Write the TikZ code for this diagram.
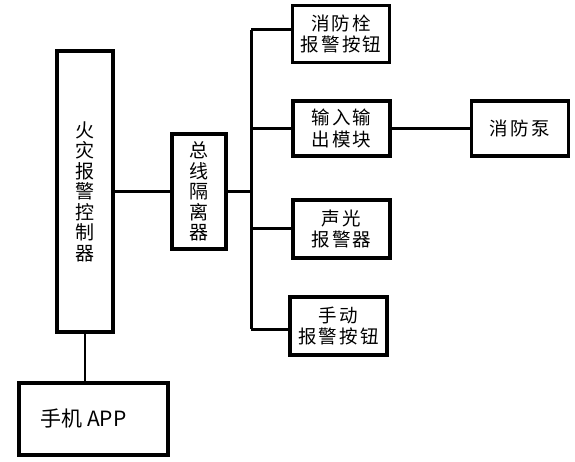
\documentclass[tikz,border=0pt]{standalone}
\usepackage{fontspec}
\usepackage{tikz}
\usetikzlibrary{positioning}
\newfontfamily\cjk[LetterSpace=12]{Noto Sans CJK SC}
\newfontfamily\cjkplain{Noto Sans CJK SC}

\begin{document}
\begin{tikzpicture}[x=1pt, y=-1pt, node distance=30pt]
    % Define styles
    \tikzstyle{blk} = [draw, rectangle, line width=3.4pt, fill=white, inner sep=0pt, align=center, font=\cjk\fontsize{18.5}{21.5}\selectfont]
    \tikzstyle{tallblk} = [blk, minimum width=56pt, minimum height=281pt, font=\cjkplain\fontsize{19}{20.5}\selectfont]
    \tikzstyle{devblk} = [blk, minimum width=97pt, minimum height=57pt]
    \tikzstyle{bus} = [line width=3pt]
    \tikzstyle{thinline} = [line width=1.8pt]

    \useasboundingbox (0,0) rectangle (575,462);

    % CONTROLLER
    \node (controller) [tallblk] at (85,191.5) {火\\灾\\报\\警\\控\\制\\器};
    \node (app) [blk, minimum width=149pt, minimum height=72pt, font=\cjkplain\fontsize{21}{24}\selectfont] at (93.5,419) {手机 APP\hspace*{20pt}};
    \node (isolator) [tallblk, minimum width=54pt, minimum height=115pt] at (199,191.5) {总\\线\\隔\\离\\器};

    % DEVICES
    \node (hydrant) [devblk] at (341,34) {消防栓\\报警按钮};
    \node (inout) [devblk, minimum height=55pt] at (341.5,128.5) {输入输\\出模块};
    \node (pump) [devblk, minimum height=55pt, right=78pt of inout] {消防泵};
    \node (alarm) [devblk, minimum height=58pt] at (341.5,229) {声光\\报警器};
    \node (manual) [devblk, minimum height=58pt] at (338.5,326) {手动\\报警按钮};

    % Bus
    \coordinate (bustop) at (251,30);
    \coordinate (busbot) at (251,329);
    \coordinate (busmid) at (251,191.5);

    % CONNECTIONS
    \draw[thinline] (controller.south) -- (controller.south |- app.north);
    \draw[bus] (controller) -- (isolator);
    \draw[bus] (isolator) -- (busmid);
    \draw[bus] (bustop) -- (busbot);
    \draw[bus] (bustop) -- (bustop -| hydrant.west);
    \draw[bus] (inout.west -| bustop) -- (inout.west);
    \draw[bus] (alarm.west -| bustop) -- (alarm.west);
    \draw[bus] (busbot) -- (busbot -| manual.west);
    \draw[bus] (inout) -- (pump);

\end{tikzpicture}
\end{document}
